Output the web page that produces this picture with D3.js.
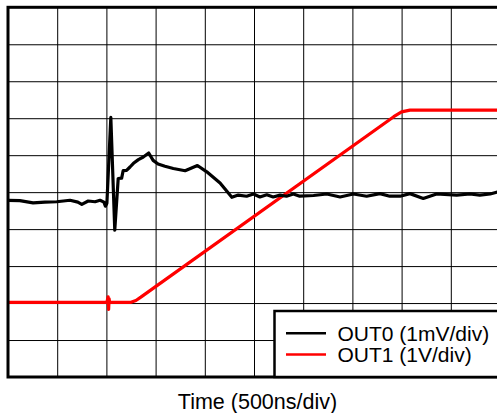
<!DOCTYPE html>
<html>
<head>
<meta charset="utf-8">
<script src="https://cdn.jsdelivr.net/npm/d3@7"></script>
<style>
  html, body { margin: 0; padding: 0; background: #fff; }
  svg { display: block; }
  text { font-family: "Liberation Sans", Arial, sans-serif; fill: #000; }
</style>
</head>
<body>
<svg id="chart" width="497" height="413"></svg>
<script>
// ---- Data (time in divisions of 500 ns, amplitude in screen divisions) ----
const xLabel = "Time (500ns/div)";
const seriesNames = ["OUT0 (1mV/div)", "OUT1 (1V/div)"];
const seriesColors = ["#000000", "#ff0000"];
const gridTicks = [1, 2, 3, 4, 5, 6, 7, 8, 9];

const out0T = [0, 0.24, 0.51, 0.75, 0.99, 1.26, 1.42, 1.50, 1.63, 1.77, 1.87, 1.95, 1.98, 2.01,
  2.09, 2.17, 2.24, 2.31, 2.34, 2.41, 2.48, 2.55, 2.65, 2.75, 2.86, 2.95, 3.05, 3.19, 3.36, 3.60,
  3.85, 4.04, 4.31, 4.55, 4.68, 4.85, 4.99, 5.12, 5.26, 5.39, 5.53, 5.66, 5.80, 5.93, 6.21, 6.48,
  6.75, 7.02, 7.29, 7.56, 7.76, 7.97, 8.17, 8.44, 8.71, 9.12, 9.39, 9.59, 9.80, 10.0];
const out0V = [4.78, 4.77, 4.71, 4.73, 4.74, 4.78, 4.73, 4.67, 4.76, 4.74, 4.78, 4.73, 4.62, 4.70,
  7.02, 3.97, 5.37, 5.38, 5.58, 5.59, 5.68, 5.78, 5.88, 5.95, 6.06, 5.86, 5.76, 5.70, 5.64, 5.58,
  5.72, 5.55, 5.25, 4.86, 4.92, 4.89, 4.95, 4.87, 4.93, 4.87, 4.92, 4.89, 4.95, 4.89, 4.91, 4.95,
  4.87, 4.95, 4.89, 4.96, 4.89, 4.89, 4.96, 4.83, 4.95, 4.92, 4.95, 4.92, 4.95, 5.02];

const out1T = [0, 2.01, 2.035, 2.045, 2.055, 2.065, 2.50, 2.60, 2.70, 7.84, 8.00, 8.17, 10.0];
const out1V = [2.02, 2.02, 2.17, 1.83, 2.12, 2.02, 2.02, 2.07, 2.16, 7.04, 7.17, 7.22, 7.22];

// ---- Layout ----
const svg = d3.select("#chart");
const pL = 8, pR = 500, pT = 7.3, pB = 377;
const x = d3.scaleLinear().domain([0, 10]).range([pL, pR]);
const y = d3.scaleLinear().domain([0, 10]).range([pB, pT]);

svg.append("defs").append("clipPath").attr("id", "clip")
  .append("rect").attr("x", pL).attr("y", pT).attr("width", pR - pL).attr("height", pB - pT);

// Grid
const gx = svg.append("g").attr("transform", `translate(0,${pB})`)
  .call(d3.axisBottom(x).tickValues(gridTicks).tickSize(-(pB - pT)).tickFormat(""));
const gy = svg.append("g").attr("transform", `translate(${pL},0)`)
  .call(d3.axisLeft(y).tickValues(gridTicks).tickSize(-(pR - pL)).tickFormat(""));
[gx, gy].forEach(g => {
  g.select(".domain").remove();
  g.selectAll(".tick line").attr("stroke", "#000").attr("stroke-width", 1);
});

// Traces
const plot = svg.append("g").attr("clip-path", "url(#clip)");
const line = d3.line().x(d => x(d[0])).y(d => y(d[1]));
const series = [d3.zip(out0T, out0V), d3.zip(out1T, out1V)];
plot.append("path").datum(series[1]).attr("d", line)
  .attr("fill", "none").attr("stroke", seriesColors[1]).attr("stroke-width", 3.2)
  .attr("stroke-linejoin", "round");
plot.append("path").datum(series[0]).attr("d", line)
  .attr("fill", "none").attr("stroke", seriesColors[0]).attr("stroke-width", 3.2)
  .attr("stroke-linejoin", "round");

// Frame
svg.append("rect").attr("x", pL).attr("y", pT).attr("width", pR - pL).attr("height", pB - pT)
  .attr("fill", "none").attr("stroke", "#000").attr("stroke-width", 3);

// Legend
const lg = svg.append("g");
lg.append("rect").attr("x", 274.5).attr("y", 311).attr("width", 240).attr("height", 66)
  .attr("fill", "#fff").attr("stroke", "#000").attr("stroke-width", 2.5);
seriesNames.forEach((name, i) => {
  const yy = 333.3 + i * 21.2;
  lg.append("line").attr("x1", 286).attr("x2", 326).attr("y1", yy).attr("y2", yy)
    .attr("stroke", seriesColors[i]).attr("stroke-width", 2.5);
  lg.append("text").attr("x", 337.5).attr("y", yy + 7.3).attr("font-size", 21).text(name);
});

// X label
svg.append("text").attr("x", 257.5).attr("y", 408.5).attr("text-anchor", "middle")
  .attr("font-size", 21.5).text(xLabel);
</script>
</body>
</html>
